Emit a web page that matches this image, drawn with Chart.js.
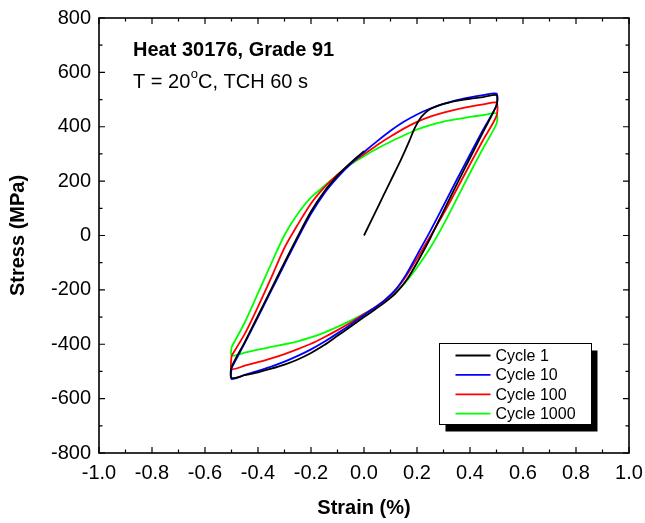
<!DOCTYPE html>
<html>
<head>
<meta charset="utf-8">
<script src="https://cdn.jsdelivr.net/npm/chart.js@4/dist/chart.umd.min.js"></script>
<style>
html,body{margin:0;padding:0;background:#fff;}
#wrap{width:645px;height:523px;position:relative;}
</style>
</head>
<body>
<div id="wrap"><canvas id="c" width="645" height="523"></canvas></div>
<script>
// ---- Data (strain in %, stress in MPa) ----
const seriesNames = ["Cycle 1", "Cycle 10", "Cycle 100", "Cycle 1000"];
const seriesColors = ["#000000", "#0000FF", "#FF0000", "#00FF00"];

const cycle1Strain = [0, 0.05, 0.10, 0.14, 0.17, 0.19, 0.21, 0.23, 0.25, 0.28, 0.32, 0.36, 0.40, 0.45, 0.5,
  0.5, 0.45, 0.40, 0.35, 0.30, 0.25, 0.20, 0.16, 0.12, 0.08, 0.04, 0.0, -0.05, -0.10, -0.15, -0.20, -0.25, -0.30, -0.35, -0.40, -0.45, -0.5,
  -0.5, -0.45, -0.40, -0.35, -0.30, -0.25, -0.20, -0.15, -0.10, -0.05, 0.0];
const cycle1Stress = [0, 100, 200, 280, 345, 392, 428, 450, 465, 478, 489, 497, 503, 509, 516,
  479, 382, 285, 188, 90, -10, -100, -165, -212, -245, -273, -300, -335, -369, -403, -432, -456, -475, -490, -503, -514, -524,
  -485, -392, -295, -197, -99, -3, 88, 162, 220, 268, 310];

const cycle10Strain = [-0.5, -0.45, -0.40, -0.35, -0.30, -0.25, -0.20, -0.15, -0.10, -0.05, 0.0, 0.05, 0.10, 0.15, 0.20, 0.25, 0.30, 0.35, 0.40, 0.45, 0.5,
  0.5, 0.45, 0.40, 0.35, 0.30, 0.25, 0.20, 0.16, 0.12, 0.08, 0.04, 0.0, -0.05, -0.10, -0.15, -0.20, -0.25, -0.30, -0.35, -0.40, -0.45, -0.5, -0.5];
const cycle10Stress = [-488, -396, -300, -203, -106, -10, 80, 155, 214, 264, 307, 347, 385, 418, 445, 467, 484, 498, 508, 516, 522,
  479, 390, 298, 205, 110, 16, -72, -142, -198, -236, -266, -292, -327, -360, -391, -419, -443, -464, -482, -498, -513, -528, -488];

const cycle100Strain = [-0.5, -0.45, -0.40, -0.35, -0.30, -0.25, -0.20, -0.15, -0.10, -0.05, 0.0, 0.05, 0.10, 0.15, 0.20, 0.25, 0.30, 0.35, 0.40, 0.45, 0.5,
  0.5, 0.45, 0.40, 0.35, 0.30, 0.25, 0.20, 0.16, 0.12, 0.08, 0.04, 0.0, -0.05, -0.10, -0.15, -0.20, -0.25, -0.30, -0.35, -0.40, -0.45, -0.5, -0.5];
const cycle100Stress = [-443, -362, -262, -155, -45, 40, 118, 177, 224, 264, 299, 333, 364, 393, 418, 437, 452, 464, 474, 482, 488,
  440, 352, 262, 170, 80, -3, -85, -148, -200, -237, -265, -289, -320, -348, -374, -398, -418, -436, -452, -466, -479, -491, -443];

const cycle1000Strain = [-0.5, -0.45, -0.40, -0.35, -0.30, -0.25, -0.20, -0.15, -0.10, -0.05, 0.0, 0.05, 0.10, 0.15, 0.20, 0.25, 0.30, 0.35, 0.40, 0.45, 0.5,
  0.5, 0.45, 0.40, 0.35, 0.30, 0.25, 0.20, 0.15, 0.10, 0.05, 0.0, -0.05, -0.10, -0.15, -0.20, -0.25, -0.30, -0.35, -0.40, -0.45, -0.5, -0.5];
const cycle1000Stress = [-411, -320, -212, -103, 2, 80, 140, 182, 224, 262, 292, 320, 345, 368, 390, 406, 419, 428, 436, 443, 449,
  411, 322, 230, 135, 40, -45, -118, -180, -226, -260, -288, -313, -336, -357, -375, -389, -400, -410, -420, -431, -442, -411];

const xTickValues = [-1.0, -0.8, -0.6, -0.4, -0.2, 0.0, 0.2, 0.4, 0.6, 0.8, 1.0];
const yTickValues = [-800, -600, -400, -200, 0, 200, 400, 600, 800];

const allStrain = [cycle1Strain, cycle10Strain, cycle100Strain, cycle1000Strain];
const allStress = [cycle1Stress, cycle10Stress, cycle100Stress, cycle1000Stress];

const FONT = "'Liberation Sans', Arial, sans-serif";

const datasets = seriesNames.map((name, i) => ({
  label: name,
  data: allStrain[i].map((x, k) => ({x: x, y: allStress[i][k]})),
  borderColor: seriesColors[i],
  backgroundColor: seriesColors[i],
  borderWidth: 1.8,
  pointRadius: 0,
  showLine: true,
  tension: 0.25,
  fill: false
}));

// Frame, inward major/minor ticks, annotations and legend box
const decorations = {
  id: 'decorations',
  afterDraw(chart) {
    const ctx = chart.ctx;
    const a = chart.chartArea;
    const xs = chart.scales.x, ys = chart.scales.y;
    ctx.save();
    ctx.strokeStyle = '#000';
    ctx.lineWidth = 1.6;
    ctx.strokeRect(a.left, a.top, a.right - a.left, a.bottom - a.top);
    ctx.lineWidth = 1.2;
    ctx.beginPath();
    for (let v = -10; v <= 10; v++) {
      const px = xs.getPixelForValue(v / 10);
      const len = (v % 2 === 0) ? 6 : 3.5;
      ctx.moveTo(px, a.bottom); ctx.lineTo(px, a.bottom - len);
      ctx.moveTo(px, a.top); ctx.lineTo(px, a.top + len);
    }
    for (let v = -8; v <= 8; v++) {
      const py = ys.getPixelForValue(v * 100);
      const len = (v % 2 === 0) ? 6 : 3.5;
      ctx.moveTo(a.left, py); ctx.lineTo(a.left + len, py);
      ctx.moveTo(a.right, py); ctx.lineTo(a.right - len, py);
    }
    ctx.stroke();

    // annotations
    ctx.fillStyle = '#000';
    ctx.textBaseline = 'middle';
    ctx.textAlign = 'left';
    const tx = a.left + 34;
    ctx.font = 'bold 20px ' + FONT;
    ctx.fillText('Heat 30176, Grade 91', tx, a.top + 32);
    ctx.font = '20px ' + FONT;
    const t1 = 'T = 20';
    ctx.fillText(t1, tx, a.top + 64);
    const w1 = ctx.measureText(t1).width;
    ctx.font = '13px ' + FONT;
    ctx.fillText('o', tx + w1 + 0.5, a.top + 56);
    const w2 = ctx.measureText('o').width;
    ctx.font = '20px ' + FONT;
    ctx.fillText('C, TCH 60 s', tx + w1 + w2 + 0.5, a.top + 64);

    // legend
    const lx = a.left + 340.5, ly = a.top + 325.5, lw = 152, lh = 81;
    ctx.fillStyle = '#000';
    ctx.fillRect(lx + 6, ly + 7, lw, lh);
    ctx.fillStyle = '#fff';
    ctx.fillRect(lx, ly, lw, lh);
    ctx.lineWidth = 1;
    ctx.strokeStyle = '#000';
    ctx.strokeRect(lx, ly, lw, lh);
    ctx.font = '16px ' + FONT;
    seriesNames.forEach((name, i) => {
      const ry = ly + 12 + i * 19.4;
      ctx.strokeStyle = seriesColors[i];
      ctx.lineWidth = 1.8;
      ctx.beginPath();
      ctx.moveTo(lx + 16, ry); ctx.lineTo(lx + 51, ry);
      ctx.stroke();
      ctx.fillStyle = '#000';
      ctx.fillText(name, lx + 56, ry + 1);
    });
    ctx.restore();
  }
};

new Chart(document.getElementById('c'), {
  type: 'scatter',
  data: { datasets: datasets },
  options: {
    responsive: false,
    animation: false,
    devicePixelRatio: 1,
    layout: { padding: { left: 6, right: 16, top: 18, bottom: 3 } },
    plugins: { legend: { display: false }, tooltip: { enabled: false } },
    scales: {
      x: {
        type: 'linear', min: -1, max: 1,
        afterFit: s => { s.height = 67; s.paddingLeft = 0; s.paddingRight = 0; },
        afterBuildTicks: s => { s.ticks = xTickValues.map(v => ({value: v})); },
        grid: { display: false, drawTicks: false },
        border: { display: false },
        ticks: { color: '#000', font: { family: FONT, size: 20 }, padding: 8, maxRotation: 0,
          callback: v => v.toFixed(1) },
        title: { display: true, text: 'Strain (%)', color: '#000', padding: 0,
          font: { family: FONT, size: 20, weight: 'bold' } }
      },
      y: {
        type: 'linear', min: -800, max: 800,
        afterFit: s => { s.width = 93; s.paddingTop = 0; s.paddingBottom = 0; },
        afterBuildTicks: s => { s.ticks = yTickValues.map(v => ({value: v})); },
        grid: { display: false, drawTicks: false },
        border: { display: false },
        ticks: { color: '#000', font: { family: FONT, size: 20 }, padding: 8,
          callback: v => String(v) },
        title: { display: true, text: 'Stress (MPa)', color: '#000', padding: 0,
          font: { family: FONT, size: 20, weight: 'bold' } }
      }
    }
  },
  plugins: [decorations]
});
</script>
</body>
</html>
